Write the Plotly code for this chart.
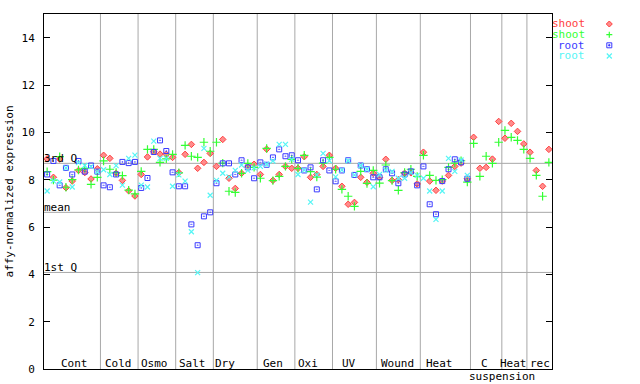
import plotly.graph_objects as go

# ---------------- data ----------------
categories = ["Cont", "Cold", "Osmo", "Salt", "Dry", "Gen", "Oxi", "UV",
              "Wound", "Heat", "C", "Heat", "rec"]
counts = [9, 6, 6, 6, 7, 6, 6, 7, 7, 8, 5, 4, 4]

shoot_a = [8.88, 8.10, 8.87, 7.66, 7.94, 8.39, 8.30, 8.03, 8.46,
           9.03, 8.90, 8.27, 7.97, 7.53, 7.31,
           8.22, 8.96, 9.18, 9.08, 9.07, 8.94,
           8.30, 9.07, 9.49, 8.48, 8.73, 9.11,
           8.56, 9.70, 8.06, 7.63, 8.27, 8.53, 8.65,
           8.22, 9.29, 7.97, 8.22, 8.56, 8.48,
           8.48, 8.97, 8.10, 8.22, 8.56, 9.03,
           8.48, 7.72, 6.96, 7.04, 8.10, 7.89, 8.27,
           8.10, 8.86, 7.97, 8.00, 8.27, 8.29, 7.82,
           9.16, 7.94, 7.55, 7.94, 8.18, 8.56, 8.70, 8.04,
           9.79, 8.48, 8.52, 8.87, 10.46,
           9.75, 10.38, 10.04, 9.51,
           9.16, 8.39, 7.72, 9.28]

shoot_b = [8.34, 7.98, 8.97, 7.68, 8.00, 8.41, 8.48, 7.80, 8.10,
           8.79, 8.44, 8.30, 8.17, 7.56, 7.40,
           8.35, 9.28, 9.28, 8.73, 8.88, 9.07,
           8.29, 9.45, 8.99, 8.94, 9.58, 9.20,
           9.58, 8.70, 7.51, 7.46, 8.27, 8.69, 8.52,
           8.06, 9.32, 7.96, 8.14, 8.56, 8.86,
           8.48, 9.03, 8.34, 8.11, 8.70, 8.94,
           8.44, 7.59, 7.30, 6.87, 8.35, 7.84, 8.39,
           7.85, 8.62, 7.96, 7.55, 8.30, 8.44, 8.14,
           9.03, 8.18, 7.97, 8.00, 8.52, 8.70, 8.80, 7.90,
           9.53, 8.14, 8.99, 8.69, 9.58,
           10.08, 9.79, 9.66, 9.28,
           8.90, 8.18, 7.30, 8.73]

root_a = [8.22, 8.79, 7.76, 8.50, 8.22, 8.79, 8.34, 8.60, 8.34,
          7.76, 7.68, 8.22, 8.75, 8.70, 8.75,
          7.65, 8.07, 9.17, 9.66, 9.21, 8.31,
          7.72, 7.72, 6.11, 5.23, 6.45, 6.62,
          7.85, 8.69, 8.69, 8.22, 8.82, 8.52, 8.06,
          8.73, 8.63, 8.94, 9.28, 8.99, 9.03,
          8.82, 8.39, 8.52, 7.59, 8.82, 8.39,
          7.93, 8.39, 8.82, 8.20, 8.60, 8.44, 8.10,
          8.10, 8.44, 8.27, 7.85, 8.22, 8.35, 7.76,
          8.56, 6.96, 6.54, 7.94, 8.44, 8.86, 8.73, 8.04]

root_b = [7.52, 7.95, 7.90, 8.50, 7.69, 8.72, 8.60, 8.55, 8.34,
          8.42, 8.22, 8.59, 7.77, 8.90, 9.04,
          7.77, 7.69, 9.63, 8.90, 8.90, 7.72,
          8.20, 7.94, 5.80, 4.07, 9.32, 7.34,
          7.97, 8.27, 8.12, 8.39, 8.62, 8.39, 8.50,
          8.56, 8.65, 8.79, 9.49, 9.49, 8.86,
          8.22, 8.40, 7.05, 8.20, 9.11, 8.80,
          8.12, 8.40, 8.80, 8.20, 8.60, 8.44, 7.70,
          8.22, 8.40, 8.35, 8.06, 8.06, 8.30, 8.18,
          8.06, 7.52, 6.32, 7.52, 8.90, 8.35, 8.83, 8.18]

quartile_names = ["3rd Q", "mean", "1st Q"]
quartile_values = [8.69, 6.62, 4.08]
y_ticks = [0, 2, 4, 6, 8, 10, 12, 14]
legend_names = ["shoot", "shoot", "root", "root"]

# ---------------- style / layout ----------------
FONT = "DejaVu Sans Mono"
FS = 11
RED, GREEN, BLUE, CYAN = "#ff4040", "#33ff33", "#3a3aff", "#55f5f5"
GRID = "#a8a8a8"
W, H = 640, 384
ML, MR, MT, MB = 44, 88, 14, 15
PW, PH = W - ML - MR, H - MT - MB

n = sum(counts)
x_all = list(range(1, n + 1))
x_root = list(range(1, len(root_a) + 1))

fig = go.Figure()
fig.add_trace(go.Scatter(x=x_all, y=shoot_a, mode="markers", name="shoot",
                         marker=dict(symbol="diamond", size=5, color="#ff8c8c",
                                     line=dict(color=RED, width=1))))
fig.add_trace(go.Scatter(x=x_all, y=shoot_b, mode="markers", name="shoot",
                         marker=dict(symbol="cross-thin-open", size=6, color=GREEN,
                                     line=dict(color=GREEN, width=1.2))))
fig.add_trace(go.Scatter(x=x_root, y=root_a, mode="markers", name="root",
                         marker=dict(symbol="square-open-dot", size=5, color=BLUE,
                                     line=dict(color=BLUE, width=1))))
fig.add_trace(go.Scatter(x=x_root, y=root_b, mode="markers", name="root",
                         marker=dict(symbol="x-thin-open", size=5, color=CYAN,
                                     line=dict(color=CYAN, width=1.2))))

shapes = []
annotations = []

# category separators
b = 0.5
bounds = []
for c in counts[:-1]:
    b += c
    bounds.append(b)
for bx in bounds:
    shapes.append(dict(type="line", xref="x", yref="paper", x0=bx, x1=bx, y0=0, y1=1,
                       line=dict(color=GRID, width=1), layer="below"))

# quartile lines + labels
for name, v in zip(quartile_names, quartile_values):
    shapes.append(dict(type="line", xref="paper", yref="y", x0=0, x1=1, y0=v, y1=v,
                       line=dict(color=GRID, width=1), layer="below"))
    annotations.append(dict(text=name, xref="paper", yref="y", x=0, y=v,
                            xanchor="left", yanchor="bottom", showarrow=False,
                            xshift=-1, yshift=-3, borderpad=0,
                            font=dict(family=FONT, size=FS, color="black")))

# category labels (pixel centres measured from the layout)
label_px = [74, 118, 154.7, 192.7, 225, 273, 308, 349, 397.3, 439, 484, 513.3, 539.5]
for lab, px in zip(categories, label_px):
    annotations.append(dict(text=lab, xref="paper", yref="paper",
                            x=(px - ML) / PW, y=(H - MB - 363.5) / PH,
                            xanchor="center", yanchor="middle", showarrow=False,
                            borderpad=0,
                            font=dict(family=FONT, size=FS, color="black")))
annotations.append(dict(text="suspension", xref="paper", yref="paper",
                        x=(501.8 - ML) / PW, y=(H - MB - 376.5) / PH,
                        xanchor="center", yanchor="middle", showarrow=False,
                        borderpad=0,
                        font=dict(family=FONT, size=FS, color="black")))

# legend (text right-aligned, symbol at right)
leg_cols = [RED, GREEN, BLUE, CYAN]
leg_rows = [24, 34.7, 45.3, 56]
for name, col, ry in zip(legend_names, leg_cols, leg_rows):
    annotations.append(dict(text=name, xref="paper", yref="paper",
                            x=(586 - ML) / PW, y=(H - MB - ry) / PH,
                            xanchor="right", yanchor="middle", showarrow=False,
                            borderpad=0,
                            font=dict(family=FONT, size=FS, color=col)))
mx = (609.3 - ML) / PW


def ly(ry):
    return (H - MB - ry) / PH


shapes.append(dict(type="path", xref="paper", yref="paper", xsizemode="pixel", ysizemode="pixel",
                   xanchor=mx, yanchor=ly(leg_rows[0]),
                   path="M 0 3 L 3 0 L 0 -3 L -3 0 Z", fillcolor="#ff8c8c",
                   line=dict(color=RED, width=1)))
shapes.append(dict(type="path", xref="paper", yref="paper", xsizemode="pixel", ysizemode="pixel",
                   xanchor=mx, yanchor=ly(leg_rows[1]),
                   path="M -3 0 L 3 0 M 0 -3 L 0 3", line=dict(color=GREEN, width=1.2)))
shapes.append(dict(type="path", xref="paper", yref="paper", xsizemode="pixel", ysizemode="pixel",
                   xanchor=mx, yanchor=ly(leg_rows[2]),
                   path="M -2.5 -2.5 L 2.5 -2.5 L 2.5 2.5 L -2.5 2.5 Z", line=dict(color=BLUE, width=1)))
shapes.append(dict(type="path", xref="paper", yref="paper", xsizemode="pixel", ysizemode="pixel",
                   xanchor=mx, yanchor=ly(leg_rows[2]),
                   path="M -0.6 -0.6 L 0.6 -0.6 L 0.6 0.6 L -0.6 0.6 Z", fillcolor=BLUE,
                   line=dict(color=BLUE, width=1)))
shapes.append(dict(type="path", xref="paper", yref="paper", xsizemode="pixel", ysizemode="pixel",
                   xanchor=mx, yanchor=ly(leg_rows[3]),
                   path="M -2.5 -2.5 L 2.5 2.5 M -2.5 2.5 L 2.5 -2.5", line=dict(color=CYAN, width=1.2)))

fig.update_layout(
    width=W, height=H,
    margin=dict(l=ML, r=MR, t=MT, b=MB, pad=0, autoexpand=False),
    paper_bgcolor="white", plot_bgcolor="white",
    showlegend=False,
    font=dict(family=FONT, size=FS, color="black"),
    shapes=shapes, annotations=annotations,
    xaxis=dict(range=[0.5, n + 0.5], showgrid=False, zeroline=False, automargin=False,
               showticklabels=False, ticks="", showline=True, linecolor="black",
               linewidth=1, mirror=True),
    yaxis=dict(range=[0, 15], tickvals=y_ticks, showgrid=False, zeroline=False,
               automargin=False,
               ticks="inside", ticklen=6, tickcolor="black", tickwidth=1,
               showline=True, linecolor="black", linewidth=1, mirror="ticks",
               ticklabelstandoff=6,
               title=dict(text="affy-normalized expression", standoff=5,
                          font=dict(family=FONT, size=FS))),
)

fig.write_html("out.html", config={"displayModeBar": False},
               post_script="document.body.style.margin='0px';document.body.style.overflow='hidden';")
